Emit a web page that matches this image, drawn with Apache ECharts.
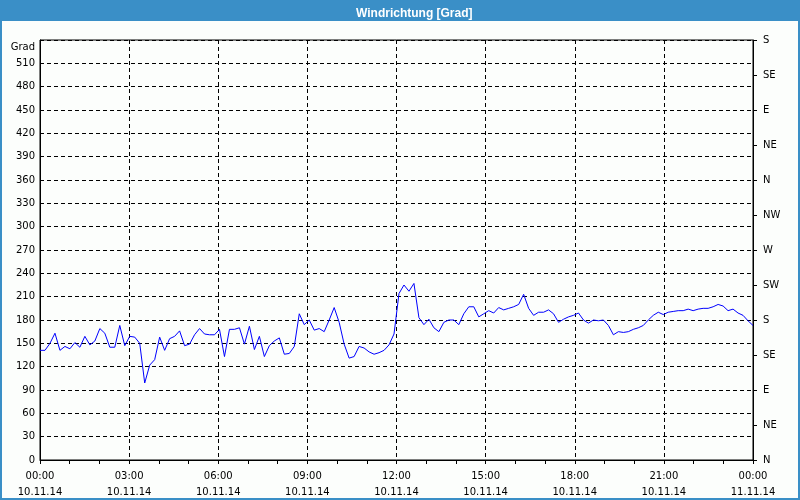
<!DOCTYPE html>
<html>
<head>
<meta charset="utf-8">
<script src="https://cdn.jsdelivr.net/npm/echarts@6/dist/echarts.min.js"></script>
<style>
html,body{margin:0;padding:0;background:#fcfefc;}
#chart{width:800px;height:500px;}
</style>
</head>
<body>
<div id="chart"></div>
<script>
// Wind direction in degrees, one sample per ~10 minutes, 10.11.14 00:00 .. 11.11.14 00:00
const windDirection = [
  141,141,150,163,141,146,143,151,145,159,148,153,169,163,145,145,173,147,159,158,
  150,99,122,129,158,141,156,159,166,147,149,161,169,162,161,161,168,
  133,168,168,170,149,172,142,159,133,147,153,157,136,137,146,188,174,180,167,169,
  165,180,196,177,149,131,133,146,144,139,136,138,141,148,162,214,225,217,227,183,
  174,181,170,165,177,180,180,174,188,197,197,184,188,192,189,196,193,195,197,200,
  213,195,186,190,190,193,188,177,181,184,186,189,180,176,180,179,180,173,161,165,
  164,165,168,170,173,180,186,190,187,190,191,192,192,194,192,194,195,195,197,200,
  198,192,194,189,186,179,173
];
const xTickLabels = ['00:00\n10.11.14','03:00\n10.11.14','06:00\n10.11.14','09:00\n10.11.14','12:00\n10.11.14','15:00\n10.11.14','18:00\n10.11.14','21:00\n10.11.14','00:00\n11.11.14'];
const leftTickLabels = ['0','30','60','90','120','150','180','210','240','270','300','330','360','390','420','450','480','510',''];
const rightTickLabels = ['N','NE','E','SE','S','SW','W','NW','N','NE','E','SE','S'];
const titleText = 'Windrichtung [Grad]';
const leftAxisName = 'Grad';

const minutes = windDirection.map((_, i) => i * 1440 / (windDirection.length - 1));
const seriesData = windDirection.map((v, i) => [minutes[i], v]);

const FONT = 'DejaVu Sans';
const chart = echarts.init(document.getElementById('chart'), null, {renderer:'canvas'});
chart.setOption({
  backgroundColor: '#fcfefc',
  animation: false,
  title: {
    text: titleText, left: 351, top: 3,
    textStyle: {color:'#ffffff', fontWeight:'bold', fontSize:12, fontFamily:'Liberation Sans'}
  },
  graphic: [
    {type:'rect', z:0, shape:{x:0, y:0, width:800, height:21}, style:{fill:'#3a8fc7'}},
    {type:'rect', z:0, shape:{x:1, y:1, width:798, height:498}, style:{fill:'none', stroke:'#3a8fc7', lineWidth:2}}
  ],
  grid: {left:40, right:47, top:40, bottom:40, show:true, borderColor:'#000', borderWidth:1, backgroundColor:'transparent'},
  xAxis: {
    type:'value', min:0, max:1440, interval:180,
    axisLine:{show:true, lineStyle:{color:'#000', width:1}},
    axisTick:{show:true, length:4, lineStyle:{color:'#000'}},
    minorTick:{show:true, splitNumber:3, length:4, lineStyle:{color:'#000'}},
    splitLine:{show:true, lineStyle:{color:'#000', type:[4,3], width:1}},
    axisLabel:{
      color:'#000', fontSize:10, fontFamily:FONT, lineHeight:16, margin:8,
      formatter: v => xTickLabels[Math.round(v/180)]
    }
  },
  yAxis: [
    {
      type:'value', min:0, max:540, interval:30, position:'left',
      name: leftAxisName, nameLocation:'end', nameGap:0,
      nameTextStyle:{color:'#000', fontSize:10, fontFamily:FONT, align:'right', verticalAlign:'top', padding:[2,5,0,0]},
      axisLine:{show:true, lineStyle:{color:'#000'}},
      axisTick:{show:false},
      splitLine:{show:true, lineStyle:{color:'#000', type:[4,3], width:1}},
      axisLabel:{color:'#000', fontSize:10, fontFamily:FONT, margin:5,
        formatter: v => leftTickLabels[Math.round(v/30)]}
    },
    {
      type:'value', min:0, max:540, interval:45, position:'right',
      axisLine:{show:true, lineStyle:{color:'#000'}},
      axisTick:{show:true, length:4, inside:false, lineStyle:{color:'#000'}},
      splitLine:{show:false},
      axisLabel:{color:'#000', fontSize:10, fontFamily:FONT, margin:10,
        formatter: v => rightTickLabels[Math.round(v/45)]}
    }
  ],
  series: [{
    type:'line', data: seriesData, yAxisIndex:0,
    showSymbol:false, symbol:'none',
    lineStyle:{color:'#0000ff', width:1},
    z:5
  }]
});
</script>
</body>
</html>
